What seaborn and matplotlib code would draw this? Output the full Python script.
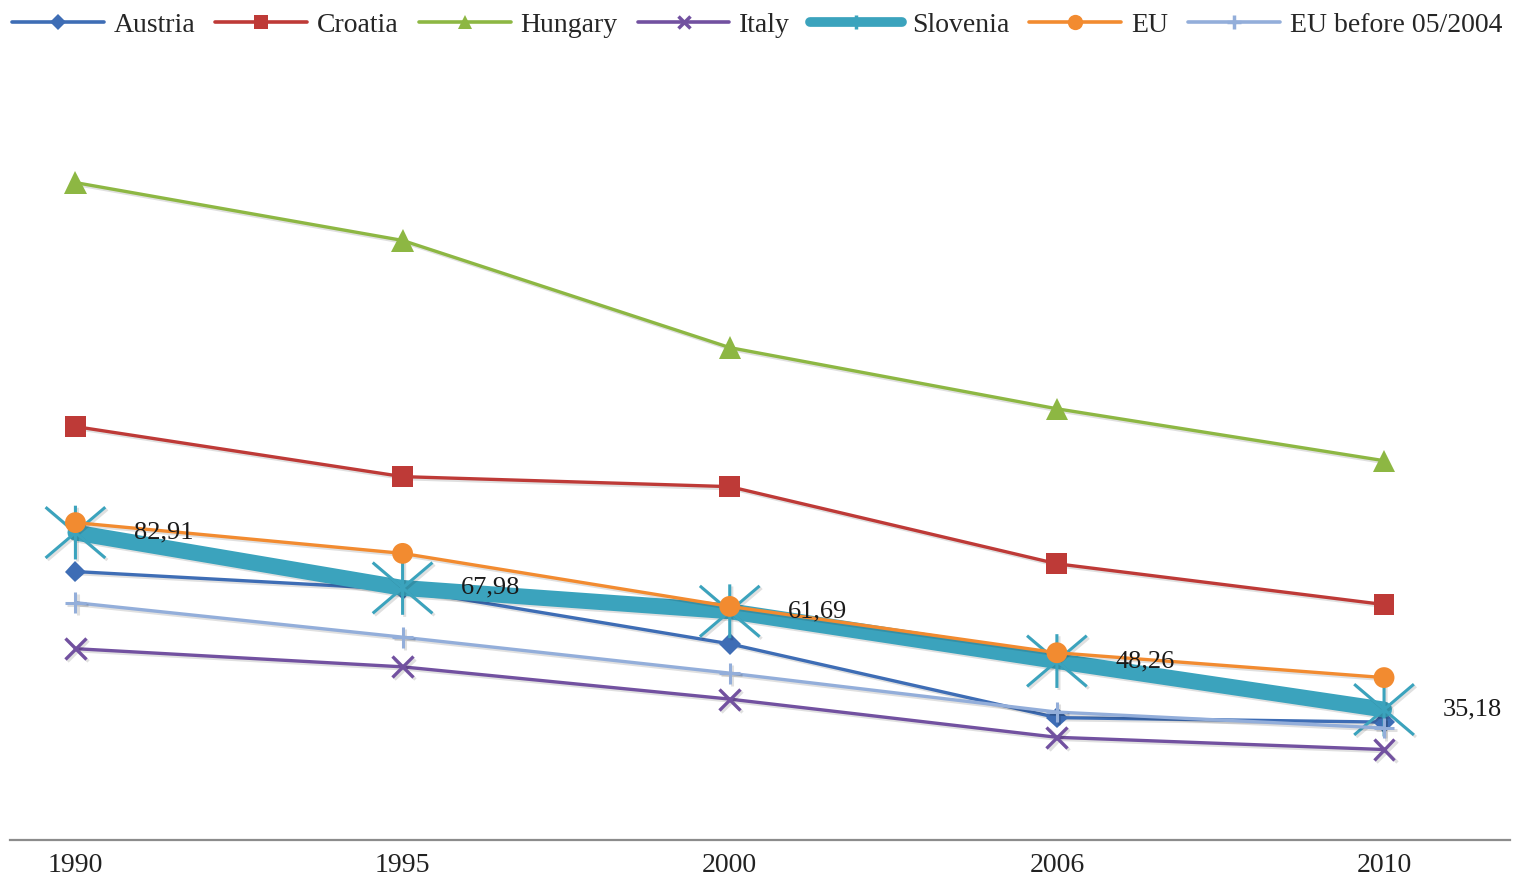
import numpy as np
import pandas as pd
import matplotlib
matplotlib.use("Agg")
import matplotlib.pyplot as plt
import matplotlib.patheffects as pe
from matplotlib.path import Path
from matplotlib.lines import Line2D
import seaborn as sns

# Category labels and series values
years = ["1990", "1995", "2000", "2006", "2010"]
austria = [72.4, 67.6, 52.9, 33.0, 31.8]
croatia = [111.5, 98.0, 95.3, 74.5, 63.5]
hungary = [177.3, 161.7, 132.8, 116.3, 102.3]
italy = [51.6, 46.7, 38.0, 27.7, 24.4]
slovenia = [82.91, 67.98, 61.69, 48.26, 35.18]
eu = [85.6, 77.3, 63.0, 50.5, 43.8]
eu15 = [64.0, 54.7, 45.0, 34.5, 30.2]

series_names = ["Austria", "Croatia", "Hungary", "Italy", "Slovenia", "EU", "EU before 05/2004"]
series_values = [austria, croatia, hungary, italy, slovenia, eu, eu15]

sns.set_theme(style="white")
plt.rcParams["font.family"] = ["Liberation Serif", "DejaVu Serif"]

# Six-armed asterisk (vertical bar plus two diagonals)
star_path = Path(
    [(0, -0.9), (0, 0.9), (-1, -0.85), (1, 0.85), (-1, 0.85), (1, -0.85)],
    [Path.MOVETO, Path.LINETO, Path.MOVETO, Path.LINETO, Path.MOVETO, Path.LINETO],
)

styles = {
    "Austria": dict(color="#3E6DB5", marker="D", ms=11, lw=2.4, mew=0, mfc="#3E6DB5"),
    "Croatia": dict(color="#BE3A37", marker="s", ms=15, lw=2.4, mew=0, mfc="#BE3A37"),
    "Hungary": dict(color="#8DB743", marker="^", ms=16, lw=2.4, mew=0, mfc="#8DB743"),
    "Italy": dict(color="#7251A0", marker="x", ms=15, lw=2.4, mew=2.4, mfc="#7251A0"),
    "Slovenia": dict(color="#3BA3BD", marker=star_path, ms=43, lw=11.5, mew=2.2, mfc="none"),
    "EU": dict(color="#F28B30", marker="o", ms=15, lw=2.4, mew=0, mfc="#F28B30"),
    "EU before 05/2004": dict(color="#93AEDA", marker="+", ms=15, lw=2.4, mew=2.2, mfc="#93AEDA"),
}

shadow = [pe.SimpleLineShadow(offset=(1.5, -1.5), shadow_color="black", alpha=0.12), pe.Normal()]

fig = plt.figure(figsize=(15.14, 8.8), dpi=100)
ax = fig.add_axes([10 / 1514, 40 / 880, 1500 / 1514, 0.8427])

pos = np.arange(len(years))
for z, (name, vals) in enumerate(zip(series_names, series_values)):
    st = styles[name]
    df = pd.DataFrame({"pos": pos, "value": vals})
    sns.lineplot(
        data=df, x="pos", y="value", ax=ax, color=st["color"],
        marker=st["marker"], markersize=st["ms"], linewidth=st["lw"],
        markeredgewidth=st["mew"], markeredgecolor=st["color"],
        markerfacecolor=st["mfc"], legend=False, zorder=3 + z,
        solid_joinstyle="round", path_effects=shadow,
    )

# Value labels for Slovenia
for x, v in zip(pos, slovenia):
    ax.annotate(f"{v:.2f}".replace(".", ","), xy=(x, v), xytext=(42, 0),
                textcoords="offset points", ha="left", va="center",
                fontsize=19, color="#1a1a1a", zorder=20)

ax.set_xlim(-0.2, 4.385)
ax.set_ylim(0, 200)
ax.set_xticks(pos)
ax.set_xticklabels(years, fontsize=20, color="#222222")
ax.tick_params(axis="x", length=0, pad=9)
ax.set_yticks([])
ax.set_xlabel("")
ax.set_ylabel("")
for side in ["left", "right", "top"]:
    ax.spines[side].set_visible(False)
ax.spines["bottom"].set_color("#8c8c8c")
ax.spines["bottom"].set_linewidth(1.6)

# Legend entries
legend_ms = {"Austria": 8, "Croatia": 10, "Hungary": 10, "Italy": 8,
             "Slovenia": 10, "EU": 11, "EU before 05/2004": 10}
handles = []
for name in series_names:
    st = styles[name]
    mk = "|" if name == "Slovenia" else st["marker"]
    handles.append(Line2D([0], [0], color=st["color"], lw=7 if name == "Slovenia" else 2.6,
                          marker=mk, ms=legend_ms[name],
                          mew=2.5 if mk in ("x", "+", "|") else 0,
                          mec=st["color"], mfc=st["color"]))
fig.legend(handles, series_names, loc="center", bbox_to_anchor=(0.5, 1 - 25 / 880),
           ncol=7, frameon=False, fontsize=20, handlelength=3.3, handletextpad=0.36,
           columnspacing=0.72, borderaxespad=0, borderpad=0)

fig.savefig("out.png", dpi=100)
